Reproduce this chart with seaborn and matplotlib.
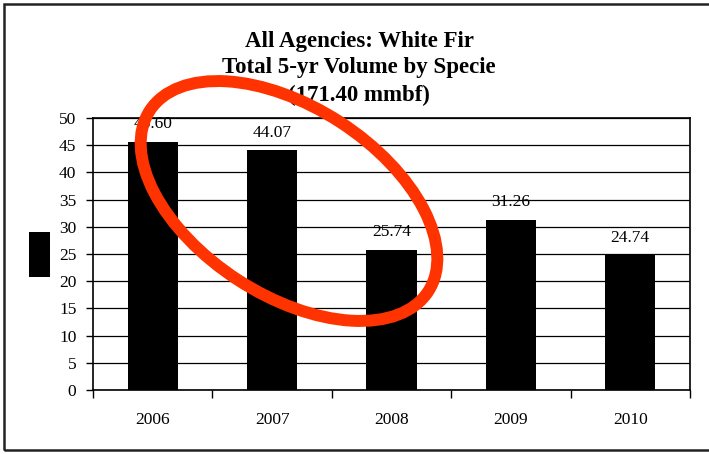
import matplotlib
matplotlib.use("Agg")
import matplotlib.pyplot as plt
import seaborn as sns
import pandas as pd
from matplotlib.patches import Ellipse, Rectangle

# Volume (mmbf) per year
years = ["2006", "2007", "2008", "2009", "2010"]
volumes = [45.60, 44.07, 25.74, 31.26, 24.74]
y_ticks = [0, 5, 10, 15, 20, 25, 30, 35, 40, 45, 50]
title_lines = ["All Agencies: White Fir", "Total 5-yr Volume by Specie", "(171.40 mmbf)"]

sns.set_theme(style="white")
plt.rcParams["font.family"] = ["Liberation Serif", "DejaVu Serif"]

fig = plt.figure(figsize=(7.09, 4.54), dpi=100)
fig.patch.set_facecolor("white")
ax = fig.add_axes([0.1312, 0.141, 0.842, 0.599])

df = pd.DataFrame({"year": years, "volume": volumes})
sns.barplot(data=df, x="year", y="volume", color="black", saturation=1,
            width=0.42, edgecolor="black", linewidth=0, ax=ax)

ax.set_xlim(-0.5, len(years) - 0.5)
ax.set_ylim(0, 50)
ax.set_yticks(y_ticks)
ax.set_xlabel("")
ax.set_ylabel("")
ax.set_axisbelow(True)
ax.yaxis.grid(True, color="black", linewidth=0.9)
ax.xaxis.grid(False)
for sp in ax.spines.values():
    sp.set_visible(True)
    sp.set_color("black")
    sp.set_linewidth(1.2)

ax.tick_params(axis="y", direction="out", length=5, width=1, pad=7,
               labelsize=12.5, colors="black", left=True)
ax.tick_params(axis="x", which="major", length=0, pad=16, labelsize=12.5,
               colors="black")
ax.set_xticks([i - 0.5 for i in range(len(years) + 1)], minor=True)
ax.tick_params(axis="x", which="minor", direction="out", length=6, width=1,
               bottom=True, color="black")

ax.bar_label(ax.containers[0], labels=[f"{v:.2f}" for v in volumes],
             padding=7, fontsize=12.5, color="black")

# Title, three centred lines
for text, ypx in zip(title_lines, [41, 67, 95]):
    fig.text(359 / 709, 1 - ypx / 454, text, ha="center", va="center",
             fontsize=16.5, fontweight="bold", color="black")

# Legend swatch on the left
fig.add_artist(Rectangle((0.29, 1.77), 0.21, 0.45, transform=fig.dpi_scale_trans,
                         facecolor="black", edgecolor="none"))

# Outer frame
fig.add_artist(Rectangle((0.04, 0.04), 7.5, 4.46, transform=fig.dpi_scale_trans,
                         facecolor="none", edgecolor="#222222", linewidth=1.8))

# Red highlight ellipse
fig.add_artist(Ellipse((2.89, 2.53), 3.32, 1.88, angle=-33,
                       transform=fig.dpi_scale_trans, facecolor="none",
                       edgecolor="#ff3300", linewidth=8.6, zorder=10))

fig.savefig("out.png", dpi=100)
